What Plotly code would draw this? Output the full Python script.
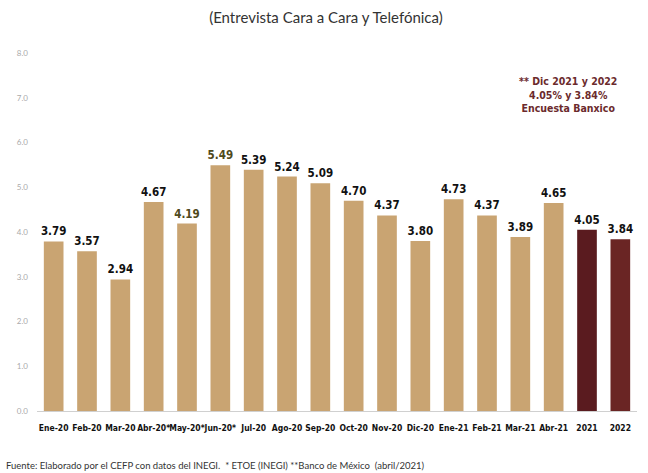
import plotly.graph_objects as go

categories = ["Ene-20", "Feb-20", "Mar-20", "Abr-20*", "May-20*", "Jun-20*", "Jul-20",
              "Ago-20", "Sep-20", "Oct-20", "Nov-20", "Dic-20", "Ene-21", "Feb-21",
              "Mar-21", "Abr-21", "2021", "2022"]
values = [3.79, 3.57, 2.94, 4.67, 4.19, 5.49, 5.39, 5.24, 5.09, 4.70, 4.37, 3.80,
          4.73, 4.37, 3.89, 4.65, 4.05, 3.84]
y_ticks = [0, 1, 2, 3, 4, 5, 6, 7, 8]

TAN = "#c9a472"
bar_colors = [TAN] * 16 + ["#5a1b1f", "#6a2524"]
label_colors = ["#111111"] * len(values)
label_colors[4] = "#4f4a1c"
label_colors[5] = "#4f4a1c"

COND = "DejaVu Sans Condensed, sans-serif"

fig = go.Figure()
fig.add_trace(go.Bar(
    x=categories, y=values,
    marker=dict(color=bar_colors, line=dict(width=0)),
    text=[f"{v:.2f}" for v in values],
    textposition="outside",
    constraintext="none",
    cliponaxis=False,
    outsidetextfont=dict(family=COND, size=11.5, color=label_colors, weight="bold"),
    width=0.59,
))

fig.update_layout(
    width=648, height=473,
    margin=dict(l=37, r=11, t=53, b=62),
    paper_bgcolor="white", plot_bgcolor="white",
    showlegend=False,
    title=dict(text="(Entrevista Cara a Cara y Telefónica)",
               x=0.503, xanchor="center", y=0.962, yanchor="middle",
               font=dict(family="Lato, Open Sans, sans-serif", size=15, color="#333333")),
    xaxis=dict(
        type="category", range=[-0.5, 17.5],
        showline=True, linecolor="#d0d0d0", linewidth=1,
        ticks="", showgrid=False, tickangle=0,
        tickfont=dict(family=COND, size=8.5, color="#111111", weight="bold"),
        ticklabelstandoff=9,
    ),
    yaxis=dict(
        range=[0, 8], tickvals=y_ticks,
        ticktext=[f"{t:.1f}" for t in y_ticks],
        showgrid=False, zeroline=False, showline=False, ticks="",
        tickfont=dict(family="Lato, sans-serif", size=8, color="#aaaaaa"),
        ticklabelstandoff=8,
    ),
    annotations=[
        dict(text="<b>** Dic 2021 y 2022<br>4.05% y 3.84%<br>Encuesta Banxico</b>",
             xref="paper", yref="paper", x=0.885, y=0.885, xanchor="center", yanchor="middle",
             showarrow=False, align="center",
             font=dict(family=COND, size=10.5, color="#6b2a2c")),
        dict(text="Fuente: Elaborado por el CEFP con datos del INEGI.  * ETOE (INEGI) **Banco de México  (abril/2021)",
             xref="paper", yref="paper", x=-0.055, y=-0.13, xanchor="left", yanchor="top",
             showarrow=False, align="left",
             font=dict(family="Lato, sans-serif", size=9.5, color="#333333")),
    ],
)

fig.write_html("out.html")
